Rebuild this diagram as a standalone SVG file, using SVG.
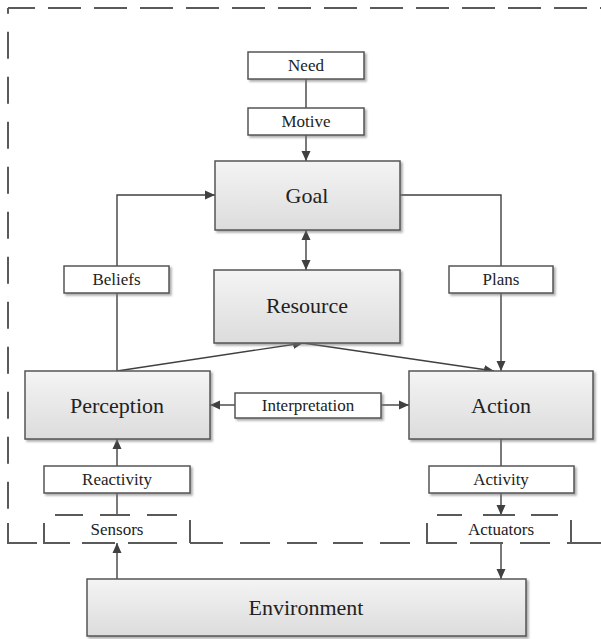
<svg xmlns="http://www.w3.org/2000/svg" width="601" height="639" viewBox="0 0 601 639">
<defs>
<linearGradient id="g" x1="0" y1="0" x2="0" y2="1">
<stop offset="0" stop-color="#f4f4f4"/>
<stop offset="1" stop-color="#dcdcdc"/>
</linearGradient>
<filter id="sh" x="-10%" y="-10%" width="130%" height="140%">
<feDropShadow dx="2" dy="2" stdDeviation="1.2" flood-color="#777" flood-opacity="0.6"/>
</filter>
<marker id="ah" viewBox="0 0 10 10" refX="10" refY="5" markerWidth="10" markerHeight="10" markerUnits="userSpaceOnUse" orient="auto-start-reverse">
<path d="M0,0.5 L10,5 L0,9.5 Z" fill="#404040"/>
</marker>
</defs>
<style>
.big{fill:url(#g);stroke:#555;stroke-width:1.5;filter:url(#sh)}
.small{fill:#fff;stroke:#555;stroke-width:1.5;filter:url(#sh)}
.c{fill:none;stroke:#404040;stroke-width:1.4}
.a{marker-end:url(#ah)}
.b{marker-start:url(#ah);marker-end:url(#ah)}
.d{fill:none;stroke:#5a5a5a;stroke-width:2}
text{font-family:"Liberation Serif","Times New Roman",serif;fill:#222;text-anchor:middle;dominant-baseline:central}
.tb{font-size:22px}
.ts{font-size:17px}
</style>

<g id="boundary">
<path class="d" d="M8 8 H608" stroke-dasharray="33 13" stroke-dashoffset="6"/>
<path class="d" d="M8 8 V543" stroke-dasharray="27 18" stroke-dashoffset="21.3"/>
<path class="d" d="M8 523 V543 H37 M190 543 H223 M240 543 H270 M287 543 H317 M333 543 H363 M380 543 H410 M567 543 H601"/>
</g>

<g id="connectors">
<path class="c" d="M306 79 V108"/>
<path class="c a" d="M306 135 V161"/>
<path class="c b" d="M306 230 V270"/>
<path class="c a" d="M117 371 V195 H215"/>
<path class="c a" d="M400 195 H501 V371"/>
<path class="c a" d="M117 371 L303 343"/>
<path class="c a" d="M303 343 L494 371"/>
<path class="c a" d="M235 405 H210"/>
<path class="c a" d="M381 405 H409"/>
<path class="c a" d="M117 466 V439"/>
<path class="c" d="M117 515 V493"/>
<path class="c a" d="M117 579 V543"/>
<path class="c" d="M501 439 V466"/>
<path class="c a" d="M501 493 V515"/>
<path class="c a" d="M501 543 V579"/>
</g>

<g id="need"><rect class="small" x="248" y="52" width="116" height="27"/><text class="ts" x="306" y="65.5">Need</text></g>
<g id="motive"><rect class="small" x="248" y="108" width="116" height="27"/><text class="ts" x="306" y="121.5">Motive</text></g>
<g id="goal"><rect class="big" x="215" y="161" width="185" height="69"/><text class="tb" x="307" y="195.5">Goal</text></g>
<g id="beliefs"><rect class="small" x="64" y="266" width="105" height="27"/><text class="ts" x="116.5" y="279.5">Beliefs</text></g>
<g id="plans"><rect class="small" x="449" y="266" width="104" height="27"/><text class="ts" x="501" y="279.5">Plans</text></g>
<g id="resource"><rect class="big" x="214" y="270" width="186" height="73"/><text class="tb" x="307" y="305">Resource</text></g>
<g id="perception"><rect class="big" x="25" y="371" width="185" height="68"/><text class="tb" x="117" y="405">Perception</text></g>
<g id="action"><rect class="big" x="409" y="371" width="184" height="68"/><text class="tb" x="501" y="405">Action</text></g>
<g id="interpretation"><rect class="small" x="235" y="393" width="146" height="25"/><text class="ts" x="308" y="405.5">Interpretation</text></g>
<g id="reactivity"><rect class="small" x="44" y="466" width="146" height="27"/><text class="ts" x="117" y="479.5">Reactivity</text></g>
<g id="activity"><rect class="small" x="429" y="466" width="145" height="27"/><text class="ts" x="501" y="479.5">Activity</text></g>
<g id="sensors">
<path class="d" d="M55 515 H83 M100 515 H130 M147 515 H177 M44 523 V543 H70 M82 543 H115 M128 543 H177 M190 520 V543"/>
<text class="ts" x="117" y="529">Sensors</text>
</g>
<g id="actuators">
<path class="d" d="M437 515 H462 M483 515 H515 M531 515 H558 M427 523 V543 H457 M470 543 H503 M520 543 H550 M571 520 V543"/>
<text class="ts" x="501" y="529">Actuators</text>
</g>
<g id="environment"><rect class="big" x="87" y="579" width="439" height="57"/><text class="tb" x="306" y="607">Environment</text></g>
</svg>
